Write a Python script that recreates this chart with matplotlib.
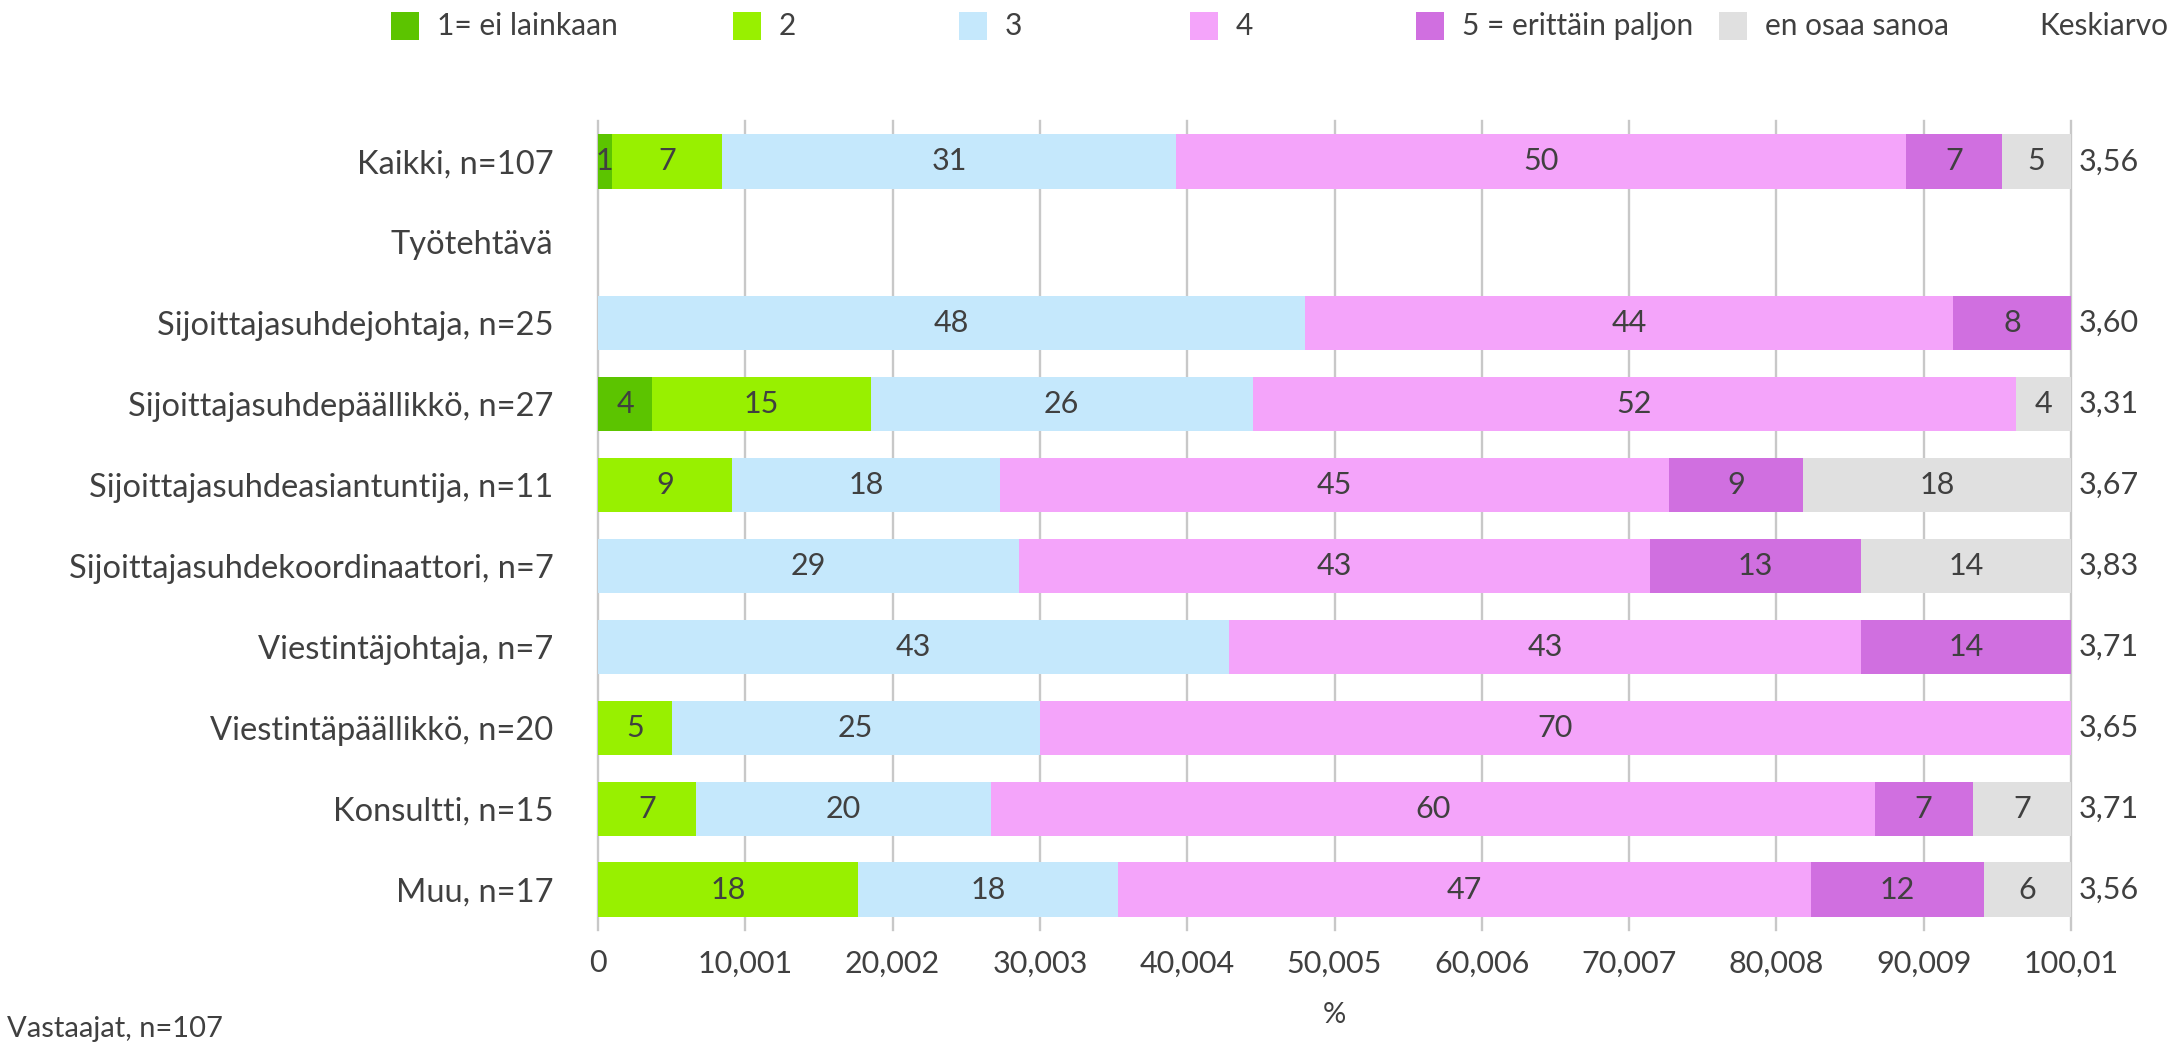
import matplotlib
matplotlib.use('Agg')
import matplotlib.pyplot as plt
from matplotlib.patches import Rectangle
import matplotlib.transforms as mtransforms
import numpy as np

categories = ["Kaikki, n=107", "Työtehtävä", "Sijoittajasuhdejohtaja, n=25",
              "Sijoittajasuhdepäällikkö, n=27", "Sijoittajasuhdeasiantuntija, n=11",
              "Sijoittajasuhdekoordinaattori, n=7", "Viestintäjohtaja, n=7",
              "Viestintäpäällikkö, n=20", "Konsultti, n=15", "Muu, n=17"]

series_names = ["1= ei lainkaan", "2", "3", "4", "5 = erittäin paljon", "en osaa sanoa"]

# percentages (bar widths)
s1 = [0.93, 0, 0, 3.70, 0, 0, 0, 0, 0, 0]
s2 = [7.48, 0, 0, 14.81, 9.09, 0, 0, 5.0, 6.67, 17.65]
s3 = [30.84, 0, 48.0, 25.93, 18.18, 28.57, 42.86, 25.0, 20.0, 17.65]
s4 = [49.53, 0, 44.0, 51.85, 45.45, 42.86, 42.86, 70.0, 60.0, 47.06]
s5 = [6.54, 0, 8.0, 0, 9.09, 14.29, 14.29, 0, 6.67, 11.76]
s6 = [4.67, 0, 0, 3.70, 18.18, 14.29, 0, 0, 6.67, 5.88]

# numbers printed in the segments
l1 = [1, 0, 0, 4, 0, 0, 0, 0, 0, 0]
l2 = [7, 0, 0, 15, 9, 0, 0, 5, 7, 18]
l3 = [31, 0, 48, 26, 18, 29, 43, 25, 20, 18]
l4 = [50, 0, 44, 52, 45, 43, 43, 70, 60, 47]
l5 = [7, 0, 8, 0, 9, 13, 14, 0, 7, 12]
l6 = [5, 0, 0, 4, 18, 14, 0, 0, 7, 6]

means = ["3,56", "", "3,60", "3,31", "3,67", "3,83", "3,71", "3,65", "3,71", "3,56"]

xmax = 100.01
xticks = [i * 10.001 for i in range(11)]

colors = ["#5cc400", "#98f000", "#c5e8fc", "#f4a4fa", "#d06fe0", "#e0e0e0"]
txt = "#404040"

plt.rcParams['font.family'] = ['Lato', 'DejaVu Sans']

fig = plt.figure(figsize=(21.74, 10.45), dpi=100)
ax = fig.add_axes([598 / 2174, 1 - 930 / 1045, (2071 - 598) / 2174, (930 - 121) / 1045])

y = np.arange(len(categories))
data = [s1, s2, s3, s4, s5, s6]
labels = [l1, l2, l3, l4, l5, l6]
left = np.zeros(len(categories))
for vals, labs, c in zip(data, labels, colors):
    vals = np.array(vals)
    ax.barh(y, vals, left=left, height=0.67, color=c, linewidth=0)
    for yi, v, lab, l in zip(y, vals, labs, left):
        if v > 0:
            ax.text(l + v / 2, yi, str(lab), ha='center', va='center',
                    fontsize=22, color=txt)
    left = left + vals

ax.set_xlim(0, xmax)
ax.set_ylim(len(categories) - 0.5, -0.5)
ax.set_xticks(xticks)
ax.set_xticklabels([f"{t:.3f}".rstrip('0').rstrip('.').replace('.', ',') for t in xticks])
ax.set_yticks(y)
ax.set_yticklabels(categories)
ax.tick_params(axis='both', length=0, colors=txt, labelsize=22)
ax.tick_params(axis='y', pad=32, labelsize=23.5)
ax.tick_params(axis='x', pad=14)
for s in ax.spines.values():
    s.set_visible(False)
ax.set_axisbelow(True)
ax.grid(axis='x', color='#c8c8c8', linewidth=1.7)
for gl in ax.get_xgridlines():
    gl.set_clip_on(False)

trans = mtransforms.blended_transform_factory(ax.transAxes, ax.transData)
for yi, m in zip(y, means):
    ax.text(1.005, yi, m, transform=trans, ha='left', va='center', fontsize=22, color=txt)

ax.set_xlabel('%', fontsize=21, color=txt, labelpad=18)
fig.text(7 / 2174, 1 - 1029 / 1045, 'Vastaajat, n=107', fontsize=21, color=txt, va='center')

# legend
sq_x = [391, 733, 959, 1190, 1416, 1719]
for sx, c, name in zip(sq_x, colors, series_names):
    fig.patches.append(Rectangle((sx / 2174, 1 - 40 / 1045), 28 / 2174, 28 / 1045,
                                 transform=fig.transFigure, color=c, linewidth=0))
    fig.text((sx + 46) / 2174, 1 - 26 / 1045, name, fontsize=21.5, color=txt, va='center')
fig.text(2168 / 2174, 1 - 26 / 1045, 'Keskiarvo', fontsize=21.5, color=txt,
         va='center', ha='right')

fig.savefig('out.png', dpi=100)
